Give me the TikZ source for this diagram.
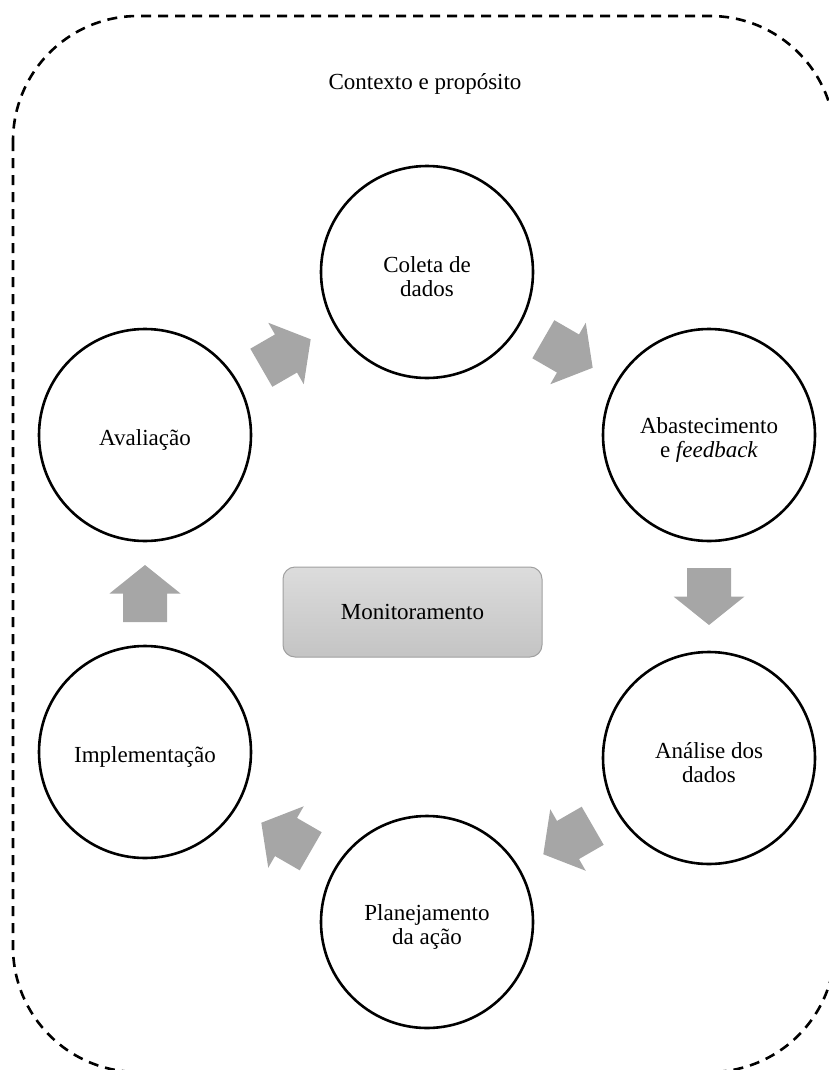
\documentclass[tikz,border=0pt]{standalone}
\usepackage{fontspec}
\setmainfont{Liberation Serif}
\usetikzlibrary{calc}
\definecolor{arrowgray}{RGB}{166,166,166}
\definecolor{boxtop}{RGB}{220,220,220}
\definecolor{boxbot}{RGB}{196,196,196}
\definecolor{boxedge}{RGB}{160,160,160}
\newcommand\stagefont{\fontsize{23}{24}\selectfont}
\newcommand\blockarr[2]{\fill[arrowgray,shift={(#1)},rotate=#2] (-28.5pt,-22pt) -- (0pt,-22pt) -- (0pt,-35.5pt) -- (28.5pt,0pt) -- (0pt,35.5pt) -- (0pt,22pt) -- (-28.5pt,22pt) -- cycle;}
\begin{document}
\begin{tikzpicture}[x=1pt,y=-1pt,
  stage/.style={circle,draw=black,line width=2.6pt,minimum size=212pt,inner sep=0pt,font=\stagefont},
  stagetext/.style={align=center,font=\stagefont,inner sep=0pt},
  frame/.style={draw=black,line width=2.6pt,dash pattern=on 10pt off 7pt,rounded corners=125pt},
  monbox/.style={draw=boxedge,line width=1pt,rounded corners=12pt,top color=boxtop,bottom color=boxbot,minimum width=259pt,minimum height=90pt,font=\stagefont}]
\useasboundingbox (0,0) rectangle (829,1070);
\clip (0,0) rectangle (829,1070);
\draw[frame] (13,16) rectangle (835,1072);
\node[font=\stagefont] (ctx) at (425,84) {Contexto e propósito};
\node[stage] (col) at (427,272) {};
\node[stage] (aba) at (709,435) {};
\node[stage] (ana) at (709,758) {};
\node[stage] (pla) at (427,922) {};
\node[stage] (imp) at (145,752) {};
\node[stage] (ava) at (145,435) {};
\node[stagetext] (tcol) at ([yshift=-5pt]col.center) {Coleta de\\dados};
\node[stagetext] (taba) at ([yshift=-5pt]aba.center) {Abastecimento\\e \textit{feedback}};
\node[stagetext] (tana) at ([yshift=-5pt]ana.center) {Análise dos\\dados};
\node[stagetext] (tpla) at ([yshift=-5pt]pla.center) {Planejamento\\da ação};
\node[stagetext] (timp) at ([yshift=-5pt]imp.center) {Implementação};
\node[stagetext] (tava) at ([yshift=-5pt]ava.center) {Avaliação};
\node[monbox] (mon) at (412.5,612) {Monitoramento};
\coordinate (m1) at ($(ava)!0.5!(col)$);
\coordinate (m2) at ($(col)!0.5!(aba)$);
\coordinate (m3) at ($(aba)!0.5!(ana)$);
\coordinate (m4) at ($(ana)!0.5!(pla)$);
\coordinate (m5) at ($(pla)!0.5!(imp)$);
\coordinate (m6) at ($(imp)!0.5!(ava)$);
\blockarr{m1}{30}
\blockarr{m2}{-30}
\blockarr{m3}{-90}
\blockarr{m4}{-150}
\blockarr{m5}{150}
\blockarr{m6}{90}
\end{tikzpicture}
\end{document}
